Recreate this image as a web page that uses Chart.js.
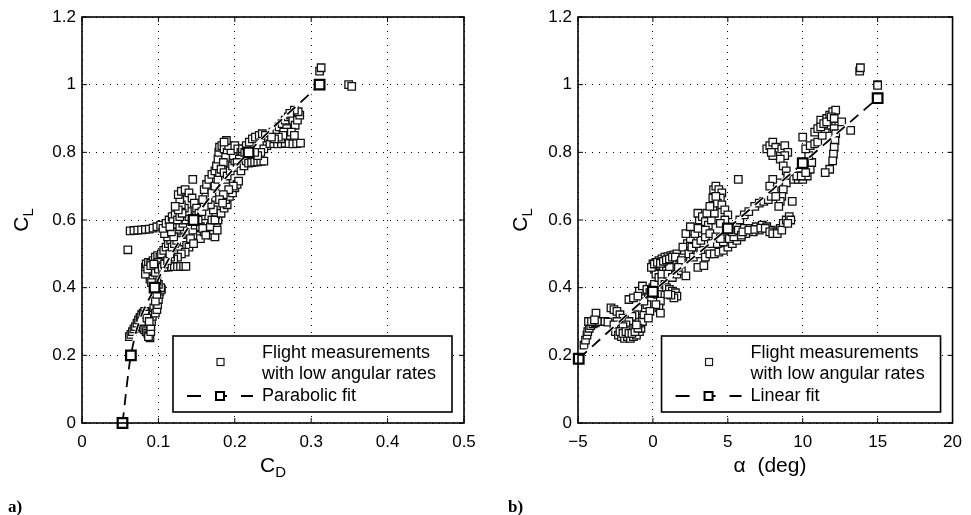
<!DOCTYPE html>
<html>
<head>
<meta charset="utf-8">
<script src="https://cdn.jsdelivr.net/npm/chart.js@4.4.0/dist/chart.umd.min.js"></script>
<style>
body { margin: 0; background: #fff; width: 971px; height: 515px; position: relative; overflow: hidden; font-family: 'Liberation Sans', Arial, sans-serif; }
.wrap { position: absolute; top: 0; height: 470px; }
#wa { left: 0; width: 485px; }
#wb { left: 485px; width: 486px; }
.lab { position: absolute; font-size: 21px; color: #000; white-space: nowrap; transform: translate(-50%, -50%); }
.lab sub { font-size: 15px; vertical-align: -5px; }
.rot { transform: translate(-50%, -50%) rotate(-90deg); }
.pan { position: absolute; top: 497px; font: bold 17px 'Liberation Serif', 'Times New Roman', serif; }
</style>
</head>
<body>
<div class="wrap" id="wa"><canvas id="chartA"></canvas></div>
<div class="wrap" id="wb"><canvas id="chartB"></canvas></div>
<div class="lab rot" style="left:22px;top:220px">C<sub>L</sub></div>
<div class="lab" style="left:273px;top:466px">C<sub>D</sub></div>
<div class="lab rot" style="left:521px;top:220px">C<sub>L</sub></div>
<div class="lab" style="left:770px;top:465px">α&nbsp;&nbsp;(deg)</div>
<div class="pan" style="left:8px">a)</div>
<div class="pan" style="left:508px">b)</div>
<script>
// panel a: drag polar, flight points [CD, CL]
let flightA = [
  [0.062,0.255],[0.064,0.262],[0.066,0.27],[0.068,0.278],[0.07,0.285],[0.072,0.295],[0.074,0.305],[0.076,0.312],
  [0.078,0.32],[0.08,0.325],[0.082,0.33],[0.083,0.322],[0.08,0.28],[0.082,0.275],[0.084,0.27],[0.086,0.265],
  [0.088,0.26],[0.089,0.252],[0.087,0.255],[0.09,0.27],[0.09,0.285],[0.091,0.3],[0.092,0.315],[0.093,0.33],
  [0.094,0.34],[0.096,0.325],[0.098,0.335],[0.099,0.35],[0.1,0.365],[0.101,0.38],[0.102,0.39],[0.104,0.395],
  [0.103,0.4],[0.1,0.41],[0.098,0.42],[0.095,0.43],[0.092,0.435],[0.088,0.44],[0.085,0.45],[0.083,0.46],
  [0.084,0.47],[0.087,0.475],[0.09,0.472],[0.093,0.48],[0.096,0.49],[0.099,0.495],[0.102,0.49],[0.1,0.475],
  [0.097,0.465],[0.094,0.455],[0.091,0.45],[0.089,0.425],[0.091,0.415],[0.096,0.445],[0.1,0.455],
  [0.078,0.3],[0.085,0.31],[0.088,0.3],[0.096,0.36],[0.098,0.38],
  [0.083,0.44],[0.086,0.455],[0.09,0.465],[0.094,0.47],
  [0.105,0.46],[0.109,0.461],[0.113,0.461],[0.117,0.462],[0.121,0.462],[0.125,0.462],[0.129,0.463],[0.133,0.463],[0.136,0.463],
  [0.063,0.568],[0.068,0.569],[0.073,0.57],[0.078,0.571],[0.083,0.572],[0.088,0.573],[0.093,0.576],[0.098,0.58],[0.103,0.585],
  [0.06,0.512],
  [0.104,0.5],[0.107,0.51],[0.11,0.52],[0.113,0.53],[0.116,0.54],[0.112,0.55],[0.108,0.56],[0.106,0.575],
  [0.11,0.59],[0.114,0.6],[0.118,0.61],[0.122,0.615],[0.119,0.595],[0.121,0.58],[0.124,0.565],[0.127,0.55],
  [0.13,0.545],[0.133,0.535],[0.137,0.525],[0.14,0.52],[0.135,0.505],[0.13,0.5],[0.125,0.49],[0.12,0.485],
  [0.116,0.49],[0.128,0.58],[0.132,0.59],[0.136,0.6],[0.14,0.61],[0.138,0.625],[0.134,0.635],[0.13,0.645],
  [0.128,0.66],[0.126,0.675],[0.13,0.685],[0.135,0.69],[0.14,0.68],[0.144,0.665],[0.147,0.65],[0.15,0.635],
  [0.145,0.72],[0.153,0.62],[0.156,0.605],[0.16,0.59],[0.163,0.575],[0.166,0.565],[0.17,0.555],[0.174,0.55],
  [0.172,0.57],[0.176,0.585],[0.178,0.6],[0.175,0.615],[0.172,0.63],[0.168,0.645],[0.165,0.66],[0.162,0.675],
  [0.16,0.69],[0.163,0.705],[0.166,0.72],[0.17,0.735],[0.174,0.745],[0.15,0.555],[0.155,0.545],[0.16,0.565],
  [0.145,0.57],[0.148,0.585],[0.142,0.545],[0.146,0.53],
  [0.108,0.47],[0.112,0.48],[0.115,0.5],[0.118,0.52],[0.121,0.53],[0.124,0.54],[0.12,0.55],[0.117,0.565],
  [0.115,0.58],[0.125,0.6],[0.128,0.61],[0.131,0.62],[0.126,0.63],[0.122,0.64],[0.155,0.58],[0.158,0.575],
  [0.162,0.555],[0.168,0.58],[0.17,0.6],[0.174,0.6],[0.177,0.57],[0.152,0.6],[0.157,0.625],[0.16,0.64],
  [0.158,0.66],[0.17,0.68],[0.174,0.7],[0.178,0.72],[0.18,0.74],[0.184,0.76],[0.188,0.72],
  [0.182,0.62],[0.186,0.635],[0.19,0.645],[0.188,0.66],[0.193,0.67],[0.197,0.68],[0.2,0.695],[0.203,0.705],
  [0.205,0.715],[0.198,0.7],[0.192,0.69],[0.185,0.675],[0.18,0.66],[0.184,0.65],
  [0.176,0.76],[0.178,0.78],[0.179,0.8],[0.18,0.815],[0.183,0.82],[0.186,0.81],[0.19,0.8],[0.188,0.785],
  [0.185,0.77],[0.182,0.75],[0.186,0.74],[0.19,0.73],[0.194,0.745],[0.197,0.76],[0.2,0.775],[0.198,0.79],
  [0.195,0.805],[0.192,0.82],[0.189,0.835],[0.186,0.83],[0.2,0.82],[0.204,0.81],[0.208,0.8],[0.21,0.79],
  [0.206,0.78],[0.203,0.77],[0.205,0.755],[0.208,0.745],[0.212,0.76],[0.215,0.775],[0.21,0.81],[0.213,0.8],
  [0.218,0.768],[0.222,0.77],[0.226,0.771],[0.23,0.772],[0.234,0.773],[0.238,0.774],
  [0.215,0.82],[0.219,0.83],[0.223,0.84],[0.227,0.845],[0.232,0.85],[0.236,0.855],[0.24,0.85],[0.244,0.835],
  [0.242,0.82],[0.238,0.81],[0.234,0.8],[0.23,0.79],[0.226,0.8],
  [0.246,0.826],[0.251,0.826],[0.256,0.825],[0.261,0.826],[0.266,0.827],[0.271,0.826],[0.276,0.825],[0.281,0.826],[0.286,0.827],
  [0.25,0.86],[0.255,0.865],[0.258,0.875],[0.262,0.885],[0.266,0.895],[0.27,0.905],[0.273,0.91],[0.276,0.895],
  [0.279,0.88],[0.282,0.895],[0.285,0.91],[0.283,0.92],[0.278,0.925],[0.272,0.915],[0.268,0.87],[0.264,0.86],
  [0.27,0.85],[0.274,0.86],[0.278,0.85],[0.26,0.84],[0.263,0.85],[0.257,0.845],[0.252,0.84],[0.248,0.845],
  [0.311,1.04],[0.313,1.05],[0.349,1.0],[0.353,0.995]
]
let fitCD = [0.053, 0.064, 0.095, 0.146, 0.218, 0.311]
let fitCL_A = [0, 0.2, 0.4, 0.6, 0.8, 1.0]

// panel b: lift curve, flight points [alpha, CL]
let flightB = [
  [-4.6,0.23],[-4.5,0.245],[-4.4,0.26],[-4.35,0.27],[-4.25,0.28],[-4.15,0.288],[-4.0,0.293],[-3.85,0.296],
  [-3.7,0.3],[-3.8,0.325],[-4.3,0.3],[-4.1,0.3],[-3.9,0.305],
  [-3.2,0.3],[-3.0,0.298],[-2.8,0.34],[-2.6,0.335],[-2.4,0.33],[-2.2,0.32],
  [-2.0,0.31],[-2.4,0.3],[-2.6,0.29],[-2.5,0.27],[-2.3,0.26],[-2.1,0.255],[-1.9,0.25],[-1.7,0.255],
  [-1.5,0.25],[-1.3,0.255],[-1.1,0.26],[-0.9,0.27],[-0.8,0.28],[-0.9,0.295],[-1.0,0.31],[-1.2,0.32],
  [-1.4,0.315],[-1.6,0.3],[-1.8,0.29],[-2.0,0.285],[-1.3,0.28],[-1.5,0.275],[-0.7,0.3],[-0.6,0.32],
  [-2.2,0.27],[-2.0,0.265],[-1.8,0.27],[-1.6,0.265],[-1.4,0.265],[-1.2,0.27],[-1.0,0.28],[-1.1,0.29],
  [-0.5,0.34],[-0.4,0.35],[-0.6,0.36],[-0.8,0.38],[-0.9,0.39],[-0.7,0.405],[-0.4,0.395],[-0.2,0.385],
  [0.0,0.4],[0.1,0.41],[0.3,0.38],[0.5,0.36],[0.4,0.34],[0.5,0.325],[0.2,0.35],[-0.2,0.33],
  [-0.3,0.31],[-1.6,0.365],[-1.3,0.37],[-1.0,0.375],
  [0.0,0.47],[0.2,0.475],[0.4,0.48],[0.6,0.485],[0.8,0.49],[1.0,0.492],[1.2,0.495],[1.4,0.497],
  [1.6,0.5],[0.1,0.455],[0.3,0.46],[0.5,0.465],[0.7,0.455],[0.9,0.45],[1.1,0.46],[0.2,0.44],
  [0.4,0.43],[0.6,0.42],[0.8,0.41],
  [-0.1,0.46],[0.1,0.47],[0.3,0.475],[0.5,0.472],[0.7,0.478],[0.9,0.482],[1.1,0.485],[1.3,0.49],
  [1.5,0.49],[0.6,0.44],[1.0,0.44],
  [0.9,0.4],[1.1,0.395],[1.3,0.39],[1.5,0.385],[1.6,0.375],[1.4,0.37],[1.2,0.378],[1.0,0.38],
  [1.3,0.43],[1.6,0.44],[1.9,0.45],[2.2,0.435],[1.8,0.47],[2.0,0.49],[2.1,0.51],[2.3,0.53],
  [2.5,0.545],[2.2,0.56],[2.0,0.52],[2.4,0.5],[2.7,0.49],[3.0,0.5],[3.2,0.51],[3.0,0.46],
  [3.4,0.465],[3.5,0.49],[3.8,0.5],[4.1,0.5],[4.4,0.505],[4.7,0.51],[5.0,0.52],[5.3,0.53],
  [5.6,0.54],[5.9,0.55],[1.9,0.48],[1.7,0.46],
  [2.6,0.52],[2.9,0.53],[3.2,0.54],[3.5,0.55],[3.9,0.53],[4.3,0.53],[4.7,0.535],[5.1,0.545],[5.4,0.55],
  [2.8,0.56],[3.0,0.575],[3.1,0.6],[3.0,0.62],[3.3,0.61],[3.5,0.595],[3.7,0.585],[3.9,0.6],
  [4.1,0.62],[4.0,0.64],[4.0,0.665],[4.05,0.69],[4.2,0.7],[4.4,0.69],[4.6,0.68],[4.5,0.665],
  [4.3,0.65],[4.6,0.645],[4.8,0.63],[5.0,0.615],[4.8,0.6],[4.5,0.59],[3.5,0.57],[3.8,0.56],
  [4.2,0.55],[4.5,0.545],[2.5,0.58],[3.6,0.62],[3.8,0.64],[4.2,0.67],
  [5.7,0.72],
  [5.3,0.565],[5.7,0.57],[6.1,0.575],[6.5,0.575],[6.9,0.58],[7.3,0.585],[7.6,0.58],[7.9,0.57],
  [8.2,0.565],[8.5,0.575],[8.7,0.59],[8.9,0.6],[9.1,0.61],[9.2,0.6],[6.2,0.56],[6.7,0.565],
  [7.1,0.57],[5.9,0.555],
  [6.0,0.565],[6.4,0.57],[6.8,0.572],[7.2,0.576],[7.5,0.575],[7.8,0.565],[8.0,0.56],[8.3,0.56],
  [8.6,0.57],[9.0,0.59],
  [5.8,0.6],[6.1,0.615],[6.4,0.625],[6.8,0.64],[7.1,0.65],[7.4,0.655],[7.7,0.66],[7.9,0.67],
  [8.1,0.69],[8.3,0.71],[8.0,0.72],[7.8,0.7],
  [7.6,0.81],[7.8,0.82],[8.0,0.83],[8.2,0.815],[8.4,0.8],[8.6,0.81],[8.8,0.82],[9.0,0.8],
  [8.8,0.79],[8.5,0.78],[8.7,0.76],[8.9,0.745],[9.0,0.73],[8.9,0.71],[8.7,0.69],[8.6,0.67],
  [8.5,0.655],[8.4,0.64],[9.3,0.655],[8.2,0.67],[8.0,0.79],[7.9,0.8],
  [9.4,0.72],[9.7,0.72],[10.0,0.72],[10.3,0.73],[10.5,0.75],[10.6,0.77],[10.4,0.79],[10.2,0.81],
  [9.6,0.73],[9.9,0.73],[10.2,0.74],
  [10.0,0.845],[10.5,0.82],[10.8,0.825],[11.0,0.83],[11.3,0.85],[11.5,0.87],[11.2,0.895],[11.6,0.9],
  [11.8,0.91],[12.0,0.92],[12.2,0.925],[11.9,0.89],[11.7,0.88],[12.1,0.87],[12.2,0.855],[12.15,0.835],
  [10.8,0.86],[11.0,0.87],[11.2,0.875],[11.4,0.885],[11.6,0.89],[11.9,0.905],[12.1,0.9],
  [12.1,0.815],[12.05,0.795],[12.0,0.775],[11.8,0.75],[11.5,0.74],
  [12.6,0.89],[13.2,0.865],
  [13.8,1.04],[13.85,1.05],[15.0,1.0],[15.0,0.998]
]
let fitAlpha = [-4.95, 0, 5, 10, 15]
let fitCL_B = [0.19, 0.388, 0.575, 0.768, 0.96]

let yTicks = [0, 0.2, 0.4, 0.6, 0.8, 1, 1.2]
let legendA = ['Flight measurements', 'with low angular rates', 'Parabolic fit']
let legendB = ['Flight measurements', 'with low angular rates', 'Linear fit']

const FONT = "'Liberation Sans', Arial, sans-serif"

// box round the plot + inward ticks (matlab style)
const frame = {
  id: 'frame',
  afterDatasetsDraw(chart) {
    const {ctx, chartArea: a, scales} = chart
    ctx.save()
    ctx.strokeStyle = '#000'
    ctx.lineWidth = 1
    scales.x.ticks.forEach(t => {
      let px = scales.x.getPixelForValue(t.value)
      ctx.beginPath()
      ctx.moveTo(px, a.bottom); ctx.lineTo(px, a.bottom - 5)
      ctx.moveTo(px, a.top); ctx.lineTo(px, a.top + 5)
      ctx.stroke()
    })
    scales.y.ticks.forEach(t => {
      let py = scales.y.getPixelForValue(t.value)
      ctx.beginPath()
      ctx.moveTo(a.left, py); ctx.lineTo(a.left + 5, py)
      ctx.moveTo(a.right, py); ctx.lineTo(a.right - 5, py)
      ctx.stroke()
    })
    ctx.lineWidth = 1.6
    ctx.strokeRect(a.left, a.top, a.right - a.left, a.bottom - a.top)
    ctx.restore()
  }
}

const legendBox = {
  id: 'legendBox',
  afterDraw(chart, args, opts) {
    const {ctx, chartArea: a} = chart
    let w = 279, h = 76
    let x0 = a.right - 12 - w, y0 = a.bottom - 11 - h
    ctx.save()
    ctx.fillStyle = '#fff'
    ctx.fillRect(x0, y0, w, h)
    ctx.strokeStyle = '#000'
    ctx.lineWidth = 1.6
    ctx.strokeRect(x0, y0, w, h)
    // small marker
    ctx.lineWidth = 1.2
    ctx.strokeStyle = '#1a1a1a'
    ctx.strokeRect(x0 + 44, y0 + 22.5, 7, 7)
    // fit sample
    ctx.strokeStyle = '#000'
    ctx.lineWidth = 2
    ctx.beginPath()
    ctx.moveTo(x0 + 14, y0 + 60); ctx.lineTo(x0 + 28, y0 + 60)
    ctx.moveTo(x0 + 50, y0 + 60); ctx.lineTo(x0 + 54, y0 + 60)
    ctx.moveTo(x0 + 68, y0 + 60); ctx.lineTo(x0 + 80, y0 + 60)
    ctx.stroke()
    ctx.fillStyle = '#fff'
    ctx.fillRect(x0 + 43, y0 + 56, 8, 8)
    ctx.strokeRect(x0 + 43, y0 + 56, 8, 8)
    ctx.fillStyle = '#000'
    ctx.font = '18px ' + FONT
    ctx.textBaseline = 'middle'
    ctx.fillText(opts.labels[0], x0 + 89, y0 + 17)
    ctx.fillText(opts.labels[1], x0 + 89, y0 + 38)
    ctx.fillText(opts.labels[2], x0 + 89, y0 + 60)
    ctx.restore()
  }
}

function fmt(v) {
  let n = Number(v.toFixed(2))
  return n < 0 ? '\u2212' + (-n) : String(n)
}

function makeChart(id, flight, fx, fy, xmin, xmax, xstep, yw, padRight, labels) {
  let pts = flight.map(p => ({x: p[0], y: p[1]}))
  let fit = fx.map((v, i) => ({x: v, y: fy[i]}))
  return new Chart(document.getElementById(id), {
    type: 'scatter',
    data: {
      datasets: [
        {
          data: pts,
          pointStyle: 'rect',
          pointRadius: 5.3,
          borderWidth: 1.3,
          borderColor: '#111',
          backgroundColor: '#fff',
          order: 3,
        },
        {
          data: fit,
          showLine: true,
          cubicInterpolationMode: 'monotone',
          borderColor: '#fff',
          borderWidth: 3,
          pointRadius: 0,
          order: 2,
        },
        {
          data: fit,
          showLine: true,
          cubicInterpolationMode: 'monotone',
          borderColor: '#000',
          borderWidth: 1.8,
          borderDash: [11, 7],
          pointStyle: 'rect',
          pointRadius: 6.8,
          pointBorderWidth: 2.2,
          pointBorderColor: '#000',
          pointBackgroundColor: '#fff',
          clip: false,
          order: 1,
        },
      ],
    },
    options: {
      responsive: true,
      maintainAspectRatio: false,
      animation: false,
      events: [],
      layout: {padding: {top: 17, right: padRight, left: 0, bottom: 0}},
      plugins: {
        legend: {display: false},
        tooltip: {enabled: false},
        legendBox: {labels: labels},
      },
      scales: {
        x: {
          min: xmin, max: xmax,
          ticks: {stepSize: xstep, color: '#000', padding: 9, font: {family: FONT, size: 17}, callback: v => fmt(v)},
          grid: {color: '#000', lineWidth: 1, drawTicks: false},
          border: {display: false, dash: [1, 6]},
          afterFit: s => { s.height = 47 },
        },
        y: {
          min: 0, max: 1.2,
          afterBuildTicks: s => { s.ticks = yTicks.map(v => ({value: v})) },
          ticks: {color: '#000', padding: 6, font: {family: FONT, size: 17}, callback: v => fmt(v)},
          grid: {color: '#000', lineWidth: 1, drawTicks: false},
          border: {display: false, dash: [1, 6]},
          afterFit: s => { s.width = yw },
        },
      },
    },
    plugins: [frame, legendBox],
  })
}

makeChart('chartA', flightA, fitCD, fitCL_A, 0, 0.5, 0.1, 82, 21, legendA)
makeChart('chartB', flightB, fitAlpha, fitCL_B, -5, 20, 5, 93, 11, legendB)
</script>
</body>
</html>
